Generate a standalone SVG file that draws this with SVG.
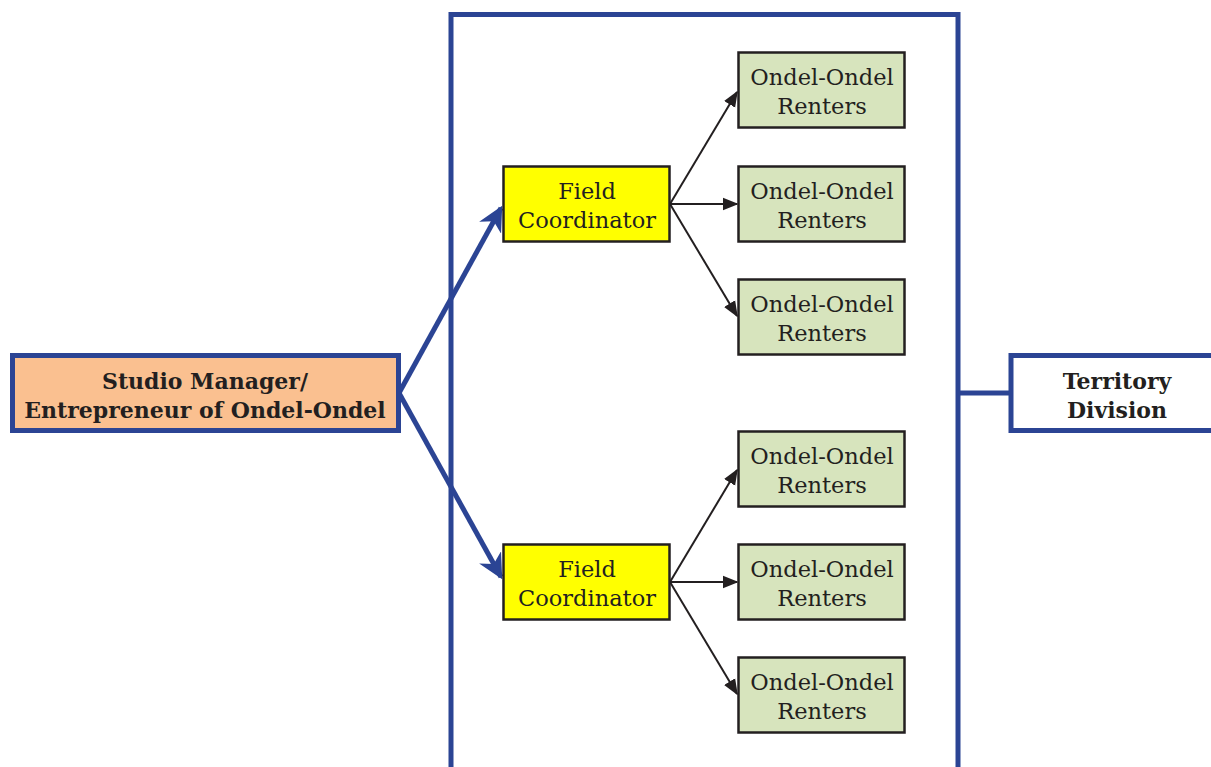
<svg xmlns="http://www.w3.org/2000/svg" width="1211" height="767" viewBox="0 0 1211 767">
<defs>
<style>
.blue{fill:none;stroke:#2B4494;stroke-width:5}
.t{font-family:"DejaVu Serif","Liberation Serif",serif;font-size:22.5px;fill:#231F20;text-anchor:middle}
.b{font-weight:bold;font-size:22px}
.fc{fill:#FFFF00;stroke:#231F20;stroke-width:2.5}
.r{fill:#D7E4BD;stroke:#231F20;stroke-width:2.5}
.bl{stroke:#2B4494;stroke-width:5;fill:none}
.k{stroke:#231F20;stroke-width:2;fill:none}
</style>
<marker id="ab" viewBox="0 0 10 10" refX="9" refY="5" markerWidth="5" markerHeight="5" orient="auto" markerUnits="strokeWidth"><path d="M0,0 L10,5 L0,10 L3,5 z" fill="#2B4494"/></marker>
<marker id="ak" viewBox="0 0 10 10" refX="9" refY="5" markerWidth="8" markerHeight="8" orient="auto" markerUnits="strokeWidth"><path d="M0,1 L10,5 L0,9 z" fill="#231F20"/></marker>
</defs>
<g id="territory-frame"><rect class="blue" x="451" y="14.5" width="507" height="790"/></g>
<g id="connectors">
<line class="bl" x1="399" y1="393" x2="501" y2="208" marker-end="url(#ab)"/>
<line class="bl" x1="399" y1="393" x2="501" y2="577" marker-end="url(#ab)"/>
<line class="k" x1="670" y1="204" x2="737" y2="92" marker-end="url(#ak)"/>
<line class="k" x1="670" y1="204" x2="737" y2="204" marker-end="url(#ak)"/>
<line class="k" x1="670" y1="204" x2="737" y2="316" marker-end="url(#ak)"/>
<line class="k" x1="670" y1="582" x2="737" y2="470" marker-end="url(#ak)"/>
<line class="k" x1="670" y1="582" x2="737" y2="582" marker-end="url(#ak)"/>
<line class="k" x1="670" y1="582" x2="737" y2="694" marker-end="url(#ak)"/>
<line class="bl" x1="958" y1="393" x2="1011" y2="393"/>
</g>
<g id="studio-manager">
<rect x="12.5" y="355.5" width="386" height="75" fill="#FAC090" stroke="#2B4494" stroke-width="5"/>
<text class="t b" x="205" y="389">Studio Manager/</text>
<text class="t b" x="205" y="418">Entrepreneur of Ondel-Ondel</text>
</g>
<g id="territory-division">
<rect x="1011" y="355.5" width="220" height="75" fill="#FFFFFF" stroke="#2B4494" stroke-width="5"/>
<text class="t b" x="1117" y="389">Territory</text>
<text class="t b" x="1117" y="418">Division</text>
</g>
<g id="field-coordinator-1">
<rect class="fc" x="503.5" y="166.5" width="166" height="75"/>
<text class="t" x="587" y="199">Field</text>
<text class="t" x="587" y="228">Coordinator</text>
</g>
<g id="field-coordinator-2">
<rect class="fc" x="503.5" y="544.5" width="166" height="75"/>
<text class="t" x="587" y="577">Field</text>
<text class="t" x="587" y="606">Coordinator</text>
</g>
<g id="renters-1"><rect class="r" x="738.5" y="52.5" width="166" height="75"/><text class="t" x="822" y="85">Ondel-Ondel</text><text class="t" x="822" y="114">Renters</text></g>
<g id="renters-2"><rect class="r" x="738.5" y="166.5" width="166" height="75"/><text class="t" x="822" y="199">Ondel-Ondel</text><text class="t" x="822" y="228">Renters</text></g>
<g id="renters-3"><rect class="r" x="738.5" y="279.5" width="166" height="75"/><text class="t" x="822" y="312">Ondel-Ondel</text><text class="t" x="822" y="341">Renters</text></g>
<g id="renters-4"><rect class="r" x="738.5" y="431.5" width="166" height="75"/><text class="t" x="822" y="464">Ondel-Ondel</text><text class="t" x="822" y="493">Renters</text></g>
<g id="renters-5"><rect class="r" x="738.5" y="544.5" width="166" height="75"/><text class="t" x="822" y="577">Ondel-Ondel</text><text class="t" x="822" y="606">Renters</text></g>
<g id="renters-6"><rect class="r" x="738.5" y="657.5" width="166" height="75"/><text class="t" x="822" y="690">Ondel-Ondel</text><text class="t" x="822" y="719">Renters</text></g>
</svg>
